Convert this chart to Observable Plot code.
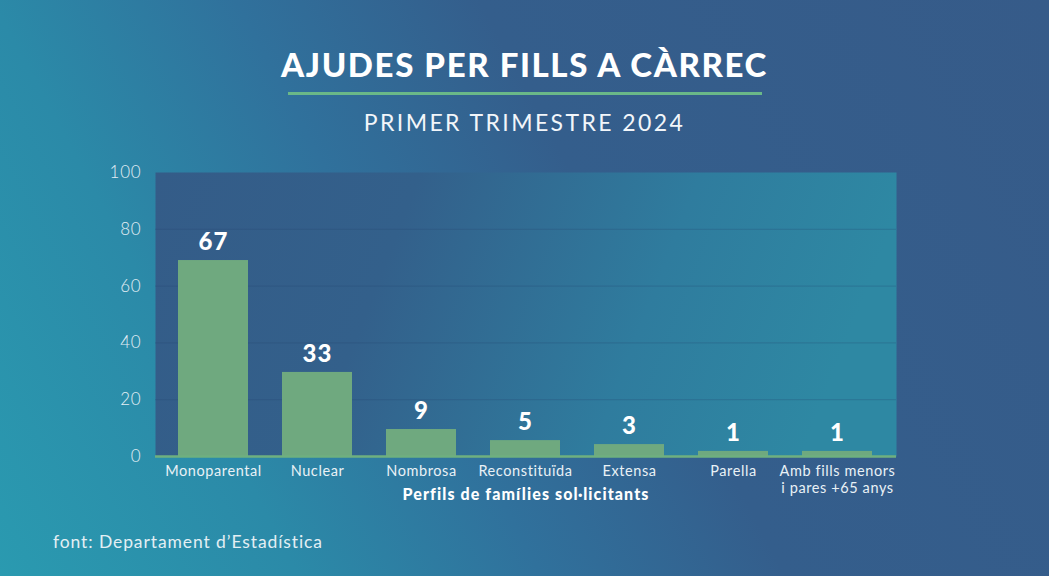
<!DOCTYPE html>
<html>
<head>
<meta charset="utf-8">
<script src="https://cdn.jsdelivr.net/npm/d3@7"></script>
<script src="https://cdn.jsdelivr.net/npm/@observablehq/plot@0.6"></script>
<style>
  html, body { margin: 0; padding: 0; }
  body {
    width: 1049px; height: 576px; overflow: hidden; position: relative;
    background: linear-gradient(62deg, #2a9ab0 0%, #2b8aa8 22%, #30719c 40%, #345e8c 58%, #365b89 100%);
    font-family: "Lato", "Open Sans", sans-serif;
  }
  #title {
    position: absolute; left: 0; width: 1049px; top: 44px; text-align: center;
    color: #fff; font-weight: 900; font-size: 33px; letter-spacing: 1.6px; line-height: 40px;
  }
  #rule {
    position: absolute; left: 288px; width: 474px; top: 92px; height: 3px; background: #6ab888;
  }
  #subtitle {
    position: absolute; left: 0; width: 1049px; top: 107px; text-align: center;
    color: #f2f6fa; font-weight: 400; font-size: 23px; letter-spacing: 2.4px; line-height: 30px;
  }
  #footer {
    position: absolute; left: 53px; top: 530px; color: #e3eff4; font-size: 17.5px; line-height: 24px;
    letter-spacing: 0.9px;
  }
  #chart { position: absolute; left: 0; top: 0; }
</style>
</head>
<body>
<div id="chart"></div>
<div id="title">AJUDES PER FILLS A CÀRREC</div>
<div id="rule"></div>
<div id="subtitle">PRIMER TRIMESTRE 2024</div>
<div id="footer">font: Departament d’Estadística</div>
<script>
// Data
const categories = ["Monoparental", "Nuclear", "Nombrosa", "Reconstituïda", "Extensa", "Parella", "Amb fills menors\ni pares +65 anys"];
const barHeights = [69, 29.6, 9.5, 5.6, 4.2, 1.8, 1.8];   // bar lengths as drawn
const valueLabels = ["67", "33", "9", "5", "3", "1", "1"]; // printed values
const yTicks = [0, 20, 40, 60, 80, 100];
const gridValues = [20, 40, 60, 80];
const axisTitle = "Perfils de famílies sol·licitants";

const data = categories.map((c, i) => ({category: c, height: barHeights[i], label: valueLabels[i]}));

const fontFamily = "Lato, 'Open Sans', sans-serif";

const svg = Plot.plot({
  width: 1049,
  height: 576,
  marginLeft: 155,
  marginRight: 153,
  marginTop: 172,
  marginBottom: 120,
  style: {background: "transparent", fontFamily, color: "#fff", overflow: "visible"},
  x: {domain: categories, axis: null, paddingInner: 0.325, paddingOuter: 0.22},
  y: {domain: [0, 100], axis: null},
  marks: [
    Plot.frame({fill: "url(#panelGrad)", stroke: null}),
    Plot.ruleY(gridValues, {stroke: "#24466f", strokeOpacity: 0.28, strokeWidth: 1}),
    Plot.barY(data, {x: "category", y: "height", fill: "#6fa97f"}),
    Plot.ruleY([0], {stroke: "#6fb07f", strokeWidth: 2.5}),
    Plot.text(data, {x: "category", y: "height", text: "label", dy: -18, fill: "#fff",
      fontSize: 24, fontWeight: 900}),
    Plot.text(yTicks, {y: d => d, frameAnchor: "left", dx: -14, textAnchor: "end",
      text: d => String(d), fill: "#e4eef5", fontSize: 17, fontWeight: 300}),
    Plot.text(data, {x: "category", frameAnchor: "bottom", dy: 8, lineAnchor: "top",
      text: "category", fill: "#e9f1f6", fontSize: 14.5, lineHeight: 1.15}),
    Plot.text([axisTitle], {frameAnchor: "bottom", dy: 43, fill: "#fff",
      fontSize: 16, fontWeight: 900})
  ]
});

// letter spacing for the text marks (values, y ticks, x labels, axis title)
const textGroups = d3.select(svg).selectAll('g[aria-label="text"]').nodes();
const spacings = [1.2, 0.8, 0.6, 1.1];
textGroups.forEach((node, i) => {
  if (spacings[i] != null) node.setAttribute("letter-spacing", spacings[i]);
});

const defs = d3.select(svg).insert("defs", ":first-child");
const g = defs.append("linearGradient").attr("id", "panelGrad")
  .attr("x1", "0").attr("y1", "0").attr("x2", "1").attr("y2", "0.15");
g.append("stop").attr("offset", "0%").attr("stop-color", "#345c88");
g.append("stop").attr("offset", "35%").attr("stop-color", "#33608b");
g.append("stop").attr("offset", "72%").attr("stop-color", "#2f7c9e");
g.append("stop").attr("offset", "100%").attr("stop-color", "#2e88a3");

document.getElementById("chart").appendChild(svg);
</script>
</body>
</html>
